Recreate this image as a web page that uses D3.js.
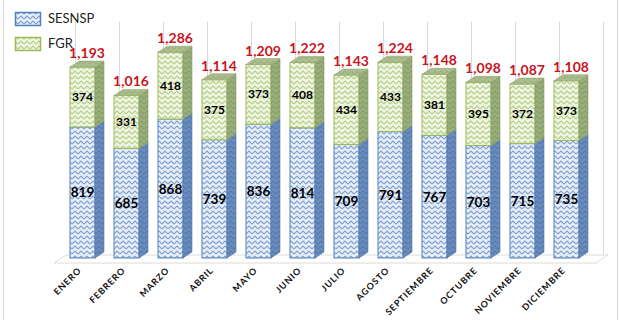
<!DOCTYPE html>
<html><head><meta charset="utf-8">
<script src="https://cdn.jsdelivr.net/npm/d3@7"></script>
<style>body{margin:0;background:#fff}svg{display:block}</style>
</head><body>
<script>
const months = ["ENERO","FEBRERO","MARZO","ABRIL","MAYO","JUNIO","JULIO","AGOSTO","SEPTIEMBRE","OCTUBRE","NOVIEMBRE","DICIEMBRE"];
const sesnsp = [819,685,868,739,836,814,709,791,767,703,715,735];
const fgr = [374,331,418,375,373,408,434,433,381,395,372,373];
const totals = [1193,1016,1286,1114,1209,1222,1143,1224,1148,1098,1087,1108];
const seriesNames = ["SESNSP","FGR"];

const W = 621, H = 320;
const DX = 9, DY = 6;
const svg = d3.select("body").append("svg").attr("width", W).attr("height", H);
const defs = svg.append("defs");
function pat(id, bg, line) {
  const p = defs.append("pattern").attr("id", id).attr("patternUnits", "userSpaceOnUse")
    .attr("width", 6).attr("height", 5);
  p.append("rect").attr("width", 6).attr("height", 5).attr("fill", bg);
  p.append("path").attr("d", "M0,4 L3,1 L6,4").attr("fill", "none").attr("stroke", line).attr("stroke-width", 1.1);
}
pat("pBlue", "#e8eef8", "#7f9fd0");
pat("pBlueSide", "#6a8bbd", "#557aae");
pat("pGreen", "#eff5e3", "#b5cd86");
pat("pGreenSide", "#9aae7c", "#889d69");
pat("pGreenTop", "#adbf90", "#9cb07c");

// chart border
svg.append("line").attr("x1", 3.5).attr("x2", 3.5).attr("y1", 0).attr("y2", H).attr("stroke", "#d9d9d9");
svg.append("line").attr("x1", 617.5).attr("x2", 617.5).attr("y1", 0).attr("y2", H).attr("stroke", "#d9d9d9");

const x = d3.scaleBand().domain(months).range([65, 593]).paddingInner(10/44).paddingOuter(5/44);
const y = d3.scaleLinear().domain([0, 1400]).range([258, 34]);
const fw = x.bandwidth() - DX;

// back wall gridlines
const bounds = d3.range(13).map(i => 65 + i * x.step() + 10);
svg.append("g").selectAll("line").data(bounds).join("line")
  .attr("x1", d => d + 0.5).attr("x2", d => d + 0.5)
  .attr("y1", 22).attr("y2", y(0) - DY + 2)
  .attr("stroke", "#d9d9d9");

// floor
svg.append("path")
  .attr("d", `M54,${y(0)+5} L${66},${y(0)-3} L${608},${y(0)-3} L${596},${y(0)+5} Z`)
  .attr("fill", "#ffffff").attr("stroke", "#e0dcd6").attr("stroke-width", 1);

const data = months.map((m, i) => ({m, s: sesnsp[i], f: fgr[i], t: totals[i]}));
const g = svg.append("g");
data.forEach(d => {
  const x0 = x(d.m);
  const yb = y(0), ys = y(d.s), yt = y(d.s + d.f);
  g.append("rect").attr("x", x0).attr("y", ys).attr("width", fw).attr("height", yb - ys)
    .attr("fill", "url(#pBlue)").attr("stroke", "#4f81bd").attr("stroke-width", 1);
  g.append("path").attr("d", `M${x0+fw},${ys} L${x0+fw+DX},${ys-DY} L${x0+fw+DX},${yb-DY} L${x0+fw},${yb} Z`)
    .attr("fill", "url(#pBlueSide)").attr("stroke", "#5677a8").attr("stroke-width", 0.6);
  g.append("rect").attr("x", x0).attr("y", yt).attr("width", fw).attr("height", ys - yt)
    .attr("fill", "url(#pGreen)").attr("stroke", "#9bbb59").attr("stroke-width", 1);
  g.append("path").attr("d", `M${x0+fw},${yt} L${x0+fw+DX},${yt-DY} L${x0+fw+DX},${ys-DY} L${x0+fw},${ys} Z`)
    .attr("fill", "url(#pGreenSide)").attr("stroke", "#869b66").attr("stroke-width", 0.6);
  g.append("path").attr("d", `M${x0},${yt} L${x0+DX},${yt-DY} L${x0+fw+DX},${yt-DY} L${x0+fw},${yt} Z`)
    .attr("fill", "url(#pGreenTop)").attr("stroke", "#93a872").attr("stroke-width", 0.6);
  g.append("text").attr("x", x0 + fw/2).attr("y", (ys + yb)/2 + 5).attr("text-anchor", "middle")
    .attr("font-family", "Lato, sans-serif").attr("font-weight", "bold").attr("font-size", 13.5)
    .attr("fill", "#000").text(d3.format(",")(d.s));
  g.append("text").attr("x", x0 + fw/2).attr("y", (yt + ys)/2 + 4).attr("text-anchor", "middle")
    .attr("font-family", "Lato, sans-serif").attr("font-weight", "bold").attr("font-size", 12)
    .attr("fill", "#000").text(d3.format(",")(d.f));
  g.append("text").attr("x", x0 + x.bandwidth()/2).attr("y", yt - DY - 3).attr("text-anchor", "middle")
    .attr("font-family", "Lato, sans-serif").attr("font-weight", "bold").attr("font-size", 14)
    .attr("fill", "#c8141e").text(d3.format(",")(d.t));
});

// x labels
svg.append("g").selectAll("text").data(months).join("text")
  .attr("transform", d => `translate(${x(d) + x.bandwidth()/2 - 5},${271}) rotate(-45)`)
  .attr("text-anchor", "end")
  .attr("font-family", "Lato, sans-serif").attr("font-weight", "bold").attr("font-size", 9)
  .attr("letter-spacing", 0.9).attr("fill", "#111").text(d => d);

// legend
const leg = svg.append("g");
const lp = [["url(#pBlue)", "#4f81bd"], ["url(#pGreen)", "#9bbb59"]];
seriesNames.forEach((n, i) => {
  const yy = 12 + i * 25;
  leg.append("rect").attr("x", 15.5).attr("y", yy + 0.5).attr("width", 25).attr("height", 13)
    .attr("fill", lp[i][0]).attr("stroke", lp[i][1]).attr("stroke-width", 1.5);
  leg.append("text").attr("x", 48).attr("y", yy + 11).attr("font-family", "Lato, sans-serif")
    .attr("font-size", 13).attr("fill", "#222").text(n);
});
</script>
</body></html>
